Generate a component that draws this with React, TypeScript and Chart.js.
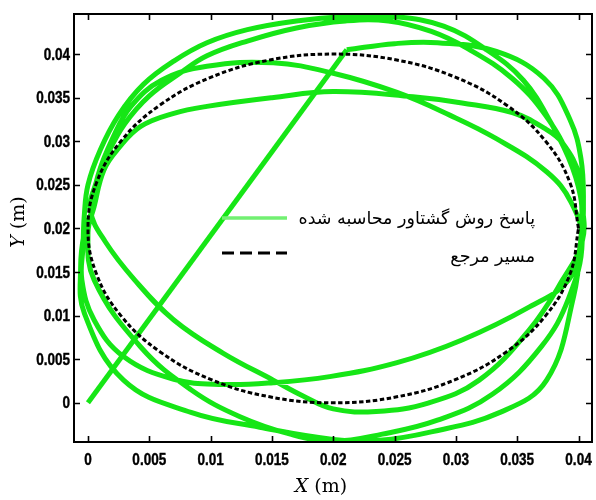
import React, { useEffect, useRef } from "react";
import { Chart, registerables } from "chart.js";

Chart.register(...registerables);

// ---- axis settings ----
const xMin = -0.00114;
const xMax = 0.0411;
const yMin = -0.0045;
const yMax = 0.0446;
const tickStep = 0.005;

// ---- legend / axis texts ----
const legendResponse = "پاسخ روش گشتاور محاسبه شده";
const legendReference = "مسیر مرجع";
const xTitleVar = "X";
const yTitleVar = "Y";
const unitText = " (m)";

// ---- reference path (dashed ellipse) ----
const refPath: number[][] = [
  [0.04, 0.02], [0.03932, 0.02518], [0.03732, 0.03], [0.03414, 0.03414], [0.03, 0.03732],
  [0.02518, 0.03932], [0.02, 0.04], [0.01482, 0.03932], [0.01, 0.03732], [0.00586, 0.03414],
  [0.00268, 0.03], [0.00068, 0.02518], [0, 0.02], [0.00068, 0.01482], [0.00268, 0.01],
  [0.00586, 0.00586], [0.01, 0.00268], [0.01482, 0.00068], [0.02, 0], [0.02518, 0.00068],
  [0.03, 0.00268], [0.03414, 0.00586], [0.03732, 0.01], [0.03932, 0.01482], [0.04, 0.02],
];

// ---- computed-torque response (green) ----
const startLine: number[][] = [[0, 0], [0.0211, 0.0405]];
const topA: number[][] = [
  [0.0211, 0.0405], [0.025, 0.0412], [0.0285, 0.0413], [0.0333, 0.0403], [0.0372, 0.0372],
  [0.0393, 0.0325], [0.0402, 0.028], [0.0404, 0.023],
];
const bottom1: number[][] = [
  [0.0402, 0.0185], [0.0392, 0.0141], [0.036, 0.011], [0.0305, 0.0072], [0.0252, 0.0046],
  [0.0197, 0.003], [0.0151, 0.0023], [0.011, 0.0021], [0.007, 0.0027], [0.0029, 0.0053],
  [0.0005, 0.0095], [-0.0005, 0.0141], [-0.0004, 0.018],
];
const top1: number[][] = [
  [-0.0003, 0.0215], [0.0, 0.025], [0.001, 0.029], [0.0025, 0.033], [0.0045, 0.0365],
  [0.007, 0.0392], [0.0097, 0.0413], [0.013, 0.0428], [0.017, 0.0438], [0.021, 0.0443],
  [0.025, 0.0443], [0.029, 0.0432], [0.0325, 0.0405], [0.0355, 0.037], [0.0378, 0.032],
  [0.0395, 0.027], [0.0403, 0.0225],
];
const bottom2: number[][] = [
  [0.0403, 0.0185], [0.0387, 0.0141], [0.036, 0.0084], [0.0319, 0.0026], [0.0278, 0.0],
  [0.0235, -0.001], [0.02, -0.0007], [0.0175, 0.0008], [0.0151, 0.0026], [0.011, 0.0057],
  [0.007, 0.0095], [0.0038, 0.0141], [0.0014, 0.0185],
];
const top2: number[][] = [
  [0.0002, 0.022], [0.0006, 0.025], [0.0016, 0.0285], [0.003, 0.032], [0.005, 0.0352],
  [0.0075, 0.0378], [0.0097, 0.0398], [0.013, 0.0415], [0.017, 0.043], [0.021, 0.0438],
  [0.0245, 0.0438], [0.028, 0.0426], [0.031, 0.0406], [0.0346, 0.0372], [0.0373, 0.033],
  [0.0393, 0.028], [0.0402, 0.0235],
];
const bottom3: number[][] = [
  [0.0402, 0.019], [0.0396, 0.0122], [0.0374, 0.0026], [0.0336, -0.0011], [0.0278, -0.0034],
  [0.0238, -0.0043], [0.02, -0.0042], [0.014, -0.0028], [0.0084, -0.0011], [0.0029, 0.0026],
  [-0.0003, 0.0103], [-0.0006, 0.0155], [-0.0003, 0.0195],
];
const top3: number[][] = [
  [0.0003, 0.022], [0.0008, 0.026], [0.002, 0.0303], [0.0035, 0.034], [0.006, 0.037],
  [0.0097, 0.0386], [0.0151, 0.039], [0.02, 0.0378], [0.0252, 0.0356], [0.0295, 0.033],
  [0.0333, 0.0303], [0.0374, 0.0265], [0.0394, 0.023],
];
const bottom4: number[][] = [
  [0.0403, 0.0185], [0.0392, 0.012], [0.037, 0.0065], [0.033, 0.001], [0.0285, -0.002],
  [0.024, -0.0036], [0.02, -0.0044], [0.0165, -0.0036], [0.0124, -0.0016], [0.0084, 0.0015],
  [0.0043, 0.0064], [0.0005, 0.0141], [0.0, 0.0195],
];
const top4: number[][] = [
  [0.0005, 0.0225], [0.0013, 0.0267], [0.0025, 0.0292], [0.0043, 0.0317], [0.007, 0.0332],
  [0.0097, 0.034], [0.015, 0.035], [0.02, 0.0357], [0.0265, 0.0351], [0.0305, 0.0344],
  [0.0346, 0.0333], [0.0372, 0.0315], [0.0387, 0.0298], [0.0401, 0.0259], [0.0403, 0.021],
];

const GREEN = "#16e616";
const LEGEND_GREEN = "#72f072";
const TICK_FONT = 'bold 16.5px "Liberation Sans", "DejaVu Sans", sans-serif';
const SERIF = '"DejaVu Serif", "Liberation Serif", serif';

const toPts = (arr: number[][]) => arr.map(([x, y]) => ({ x, y }));
const fmt = (v: number) => String(+Number(v).toFixed(4));

const overlayPlugin = {
  id: "overlay",
  afterDraw(chart: any) {
    const { ctx, chartArea, scales } = chart;
    const { left, right, top, bottom } = chartArea;
    ctx.save();
    // frame
    ctx.strokeStyle = "#000";
    ctx.lineWidth = 2;
    ctx.strokeRect(left, top, right - left, bottom - top);
    // inward ticks
    const tl = 6;
    ctx.lineWidth = 1.6;
    ctx.beginPath();
    scales.x.ticks.forEach((t: any) => {
      const px = Math.round(scales.x.getPixelForValue(t.value)) + 0.5;
      ctx.moveTo(px, bottom);
      ctx.lineTo(px, bottom - tl);
      ctx.moveTo(px, top);
      ctx.lineTo(px, top + tl);
    });
    scales.y.ticks.forEach((t: any) => {
      const py = Math.round(scales.y.getPixelForValue(t.value)) + 0.5;
      ctx.moveTo(left, py);
      ctx.lineTo(left + tl, py);
      ctx.moveTo(right, py);
      ctx.lineTo(right - tl, py);
    });
    ctx.stroke();

    // tick labels (bold, condensed)
    ctx.fillStyle = "#000";
    ctx.strokeStyle = "#000";
    ctx.lineWidth = 0.4;
    ctx.font = TICK_FONT;
    scales.x.ticks.forEach((t: any) => {
      const px = scales.x.getPixelForValue(t.value);
      ctx.save();
      ctx.translate(px, bottom + 10);
      ctx.scale(0.82, 1);
      ctx.textAlign = "center";
      ctx.textBaseline = "top";
      ctx.fillText(fmt(t.value), 0, 0);
      ctx.strokeText(fmt(t.value), 0, 0);
      ctx.restore();
    });
    scales.y.ticks.forEach((t: any) => {
      const py = scales.y.getPixelForValue(t.value);
      ctx.save();
      ctx.translate(left - 4, py + 1);
      ctx.scale(0.82, 1);
      ctx.textAlign = "right";
      ctx.textBaseline = "middle";
      ctx.fillText(fmt(t.value), 0, 0);
      ctx.strokeText(fmt(t.value), 0, 0);
      ctx.restore();
    });

    // legend
    ctx.lineCap = "butt";
    ctx.strokeStyle = LEGEND_GREEN;
    ctx.lineWidth = 3.5;
    ctx.beginPath();
    ctx.moveTo(222, 218);
    ctx.lineTo(287, 218);
    ctx.stroke();
    ctx.strokeStyle = "#000";
    ctx.lineWidth = 3;
    ctx.setLineDash([12, 6]);
    ctx.beginPath();
    ctx.moveTo(222, 253);
    ctx.lineTo(287, 253);
    ctx.stroke();
    ctx.setLineDash([]);
    ctx.fillStyle = "#000";
    ctx.font = '17.5px "DejaVu Sans", sans-serif';
    ctx.direction = "rtl";
    ctx.textAlign = "right";
    ctx.textBaseline = "middle";
    ctx.fillText(legendResponse, 535, 219);
    ctx.fillText(legendReference, 535, 257);
    ctx.direction = "ltr";

    // axis titles
    const drawTitle = (v: string, cx: number, cy: number) => {
      ctx.textBaseline = "middle";
      ctx.textAlign = "left";
      ctx.font = "italic 19px " + SERIF;
      const w1 = ctx.measureText(v).width;
      ctx.font = "19px " + SERIF;
      const w2 = ctx.measureText(unitText).width;
      const x0 = cx - (w1 + w2) / 2;
      ctx.font = "italic 19px " + SERIF;
      ctx.fillText(v, x0, cy);
      ctx.font = "19px " + SERIF;
      ctx.fillText(unitText, x0 + w1, cy);
    };
    drawTitle(xTitleVar, 321, 487);
    ctx.save();
    ctx.translate(19, 222);
    ctx.rotate(-Math.PI / 2);
    drawTitle(yTitleVar, 0, 0);
    ctx.restore();
    ctx.restore();
  },
};

export default function App() {
  const ref = useRef<HTMLCanvasElement | null>(null);
  useEffect(() => {
    if (!ref.current) return;
    const loops = [
      ...topA, ...bottom1, ...top1, ...bottom2, ...top2,
      ...bottom3, ...top3, ...bottom4, ...top4,
    ];
    const tickOpts = {
      stepSize: tickStep,
      includeBounds: false,
      autoSkip: false,
      maxRotation: 0,
      display: false,
    };
    const chart = new Chart(ref.current, {
      type: "scatter",
      data: {
        datasets: [
          {
            label: legendReference,
            data: toPts(refPath),
            showLine: true,
            borderColor: "#000",
            borderWidth: 3,
            borderDash: [4.5, 2.5],
            pointRadius: 0,
            tension: 0.4,
            order: 0,
          },
          {
            label: legendResponse,
            data: toPts(loops),
            showLine: true,
            borderColor: GREEN,
            borderWidth: 5,
            pointRadius: 0,
            tension: 0.4,
            order: 1,
          },
          {
            label: legendResponse + " ",
            data: toPts(startLine),
            showLine: true,
            borderColor: GREEN,
            borderWidth: 5,
            pointRadius: 0,
            tension: 0,
            order: 2,
          },
        ],
      },
      options: {
        animation: false,
        responsive: false,
        events: [],
        layout: { padding: { top: 14, right: 4, left: 0, bottom: 0 } },
        plugins: { legend: { display: false }, tooltip: { enabled: false } },
        scales: {
          x: {
            type: "linear",
            min: xMin,
            max: xMax,
            ticks: tickOpts,
            grid: { display: false, drawTicks: false },
            border: { display: false },
            afterFit: (s: any) => { s.height = 58; },
          },
          y: {
            type: "linear",
            min: yMin,
            max: yMax,
            ticks: tickOpts,
            grid: { display: false, drawTicks: false },
            border: { display: false },
            afterFit: (s: any) => { s.width = 74; },
          },
        },
      },
      plugins: [overlayPlugin],
    });
    return () => chart.destroy();
  }, []);
  return (
    <div style={{ position: "absolute", left: 0, top: 0, width: 596, height: 500, background: "#fff" }}>
      <canvas ref={ref} width={596} height={500} />
    </div>
  );
}
